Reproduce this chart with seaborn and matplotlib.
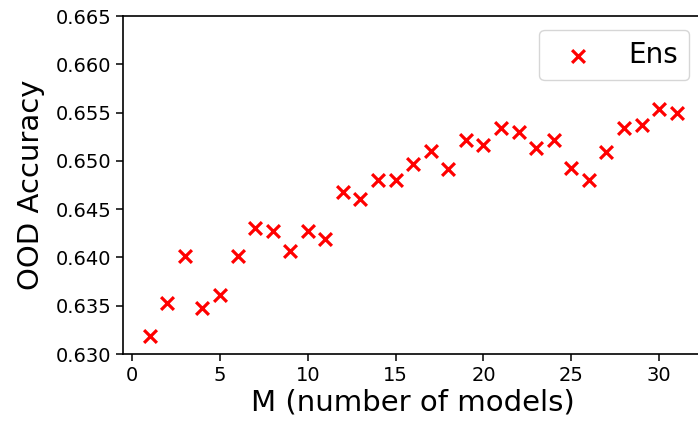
import numpy as np
import pandas as pd
import matplotlib
matplotlib.use("Agg")
import matplotlib.pyplot as plt
import seaborn as sns

sns.set_style("ticks")
plt.rcParams["font.family"] = ["DejaVu Sans"]
plt.rcParams["text.color"] = "black"

# number of models in the ensemble and the OOD accuracy
n_models = list(range(1, 32))
ood_acc = [
    0.6319, 0.6353, 0.6402, 0.6348, 0.6361, 0.6402, 0.6431, 0.6427,
    0.6407, 0.6427, 0.6419, 0.6468, 0.6460, 0.6480, 0.6480, 0.6497,
    0.6510, 0.6492, 0.6522, 0.6516, 0.6534, 0.6530, 0.6513, 0.6522,
    0.6493, 0.6480, 0.6509, 0.6534, 0.6537, 0.6554, 0.6550,
]
y_ticks = [0.630, 0.635, 0.640, 0.645, 0.650, 0.655, 0.660, 0.665]
x_ticks = [0, 5, 10, 15, 20, 25, 30]

df = pd.DataFrame({"M": n_models, "acc": ood_acc})

fig = plt.figure(figsize=(6.98, 4.26), dpi=100)
ax = fig.add_axes([0.1767, 0.169, 0.8305, 0.7934])

sns.scatterplot(data=df, x="M", y="acc", marker="x", color="red",
                s=85, linewidth=2.3, label="Ens", ax=ax)

ax.set_xlim(-0.5, 32.5)
ax.set_ylim(0.630, 0.665)
ax.set_xticks(x_ticks)
ax.set_yticks(y_ticks)
ax.set_yticklabels([f"{v:.3f}" for v in y_ticks])
ax.tick_params(axis="both", labelsize=14, length=5, width=1.1, color="black",
               labelcolor="black")
for sp in ax.spines.values():
    sp.set_color("black")
    sp.set_linewidth(1.2)

ax.set_xlabel("M (number of models)", fontsize=21, color="black", labelpad=3)
ax.set_ylabel("OOD Accuracy", fontsize=21, color="black", labelpad=8)
leg = ax.legend(loc="upper right", fontsize=20)
for t in leg.get_texts():
    t.set_color("black")

fig.savefig("out.png", dpi=100)
